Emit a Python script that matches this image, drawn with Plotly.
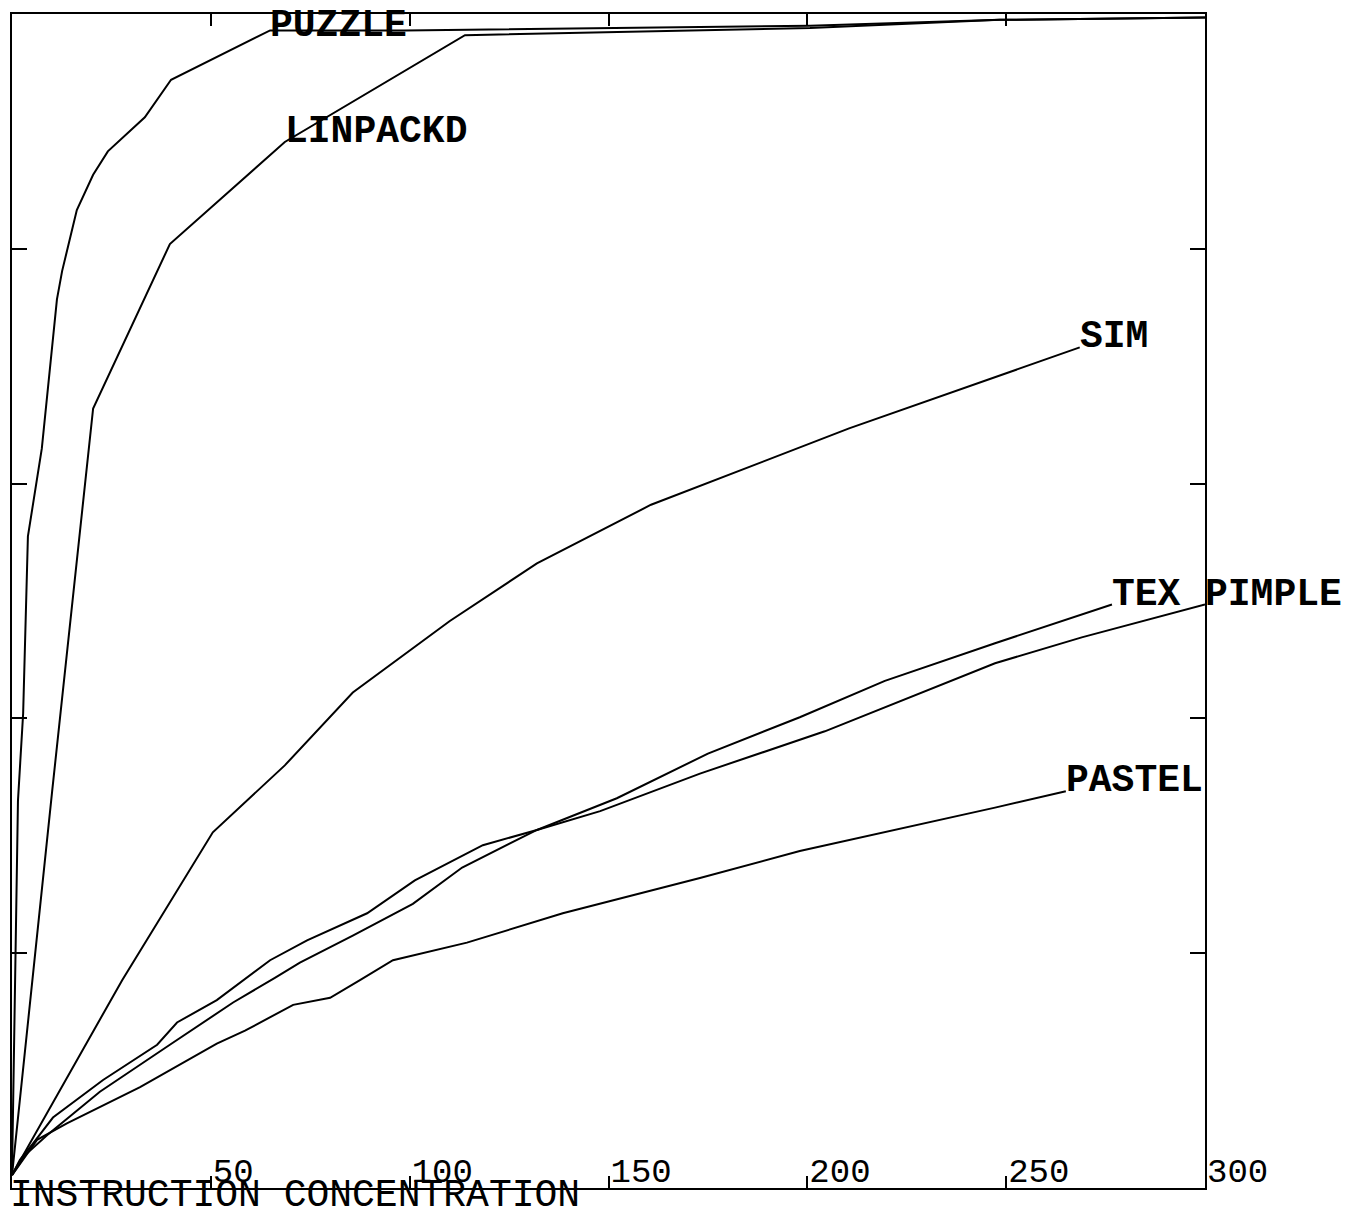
import plotly.graph_objects as go

# ---- data (x = instruction count, y = cumulative % of executed instructions) ----
series_names = ["PUZZLE", "LINPACKD", "SIM", "TEX", "PIMPLE", "PASTEL"]

puzzle_x = [0, 1.5, 2.8, 3.8, 4.0, 7.5, 11.3, 12.6, 16.3, 20.4, 24.1, 33.4, 40.0, 64.9, 98.8, 200.7, 248.4, 300]
puzzle_y = [1.1, 33.0, 40.4, 53.1, 55.5, 63.0, 75.7, 78.1, 83.3, 86.3, 88.3, 91.2, 94.4, 98.6, 98.6, 99.0, 99.5, 99.7]

linpackd_x = [0, 10.1, 20.4, 39.7, 68.6, 113.9, 200.7, 248.4, 300]
linpackd_y = [1.1, 33.8, 66.4, 80.4, 89.1, 98.2, 98.8, 99.5, 99.7]

sim_x = [0, 27.7, 50.5, 68.6, 85.7, 110.1, 132.0, 160.7, 210.5, 268.5]
sim_y = [1.1, 17.7, 30.3, 36.0, 42.2, 48.3, 53.2, 58.2, 64.7, 71.6]

tex_x = [0, 2.0, 5.3, 10.3, 22.9, 36.5, 41.5, 51.5, 64.9, 74.2, 89.3, 101.3, 118.4, 132.0, 152.1, 175.0, 198.1, 219.5, 247.2, 276.6]
tex_y = [1.1, 2.4, 3.8, 6.0, 9.2, 12.2, 14.1, 16.0, 19.4, 21.1, 23.4, 26.2, 29.2, 30.5, 33.2, 37.0, 40.1, 43.2, 46.4, 49.7]

pimple_x = [0, 3.3, 8.8, 22.1, 39.7, 55.6, 66.1, 72.4, 85.7, 100.8, 113.2, 132.0, 147.9, 173.0, 204.4, 247.2, 269.0, 300]
pimple_y = [1.1, 2.8, 4.5, 8.2, 12.2, 15.8, 17.9, 19.2, 21.5, 24.2, 27.3, 30.5, 32.1, 35.3, 38.9, 44.7, 46.9, 49.7]

pastel_x = [0, 6.3, 13.8, 32.2, 51.5, 58.6, 70.7, 80.0, 87.5, 95.8, 114.4, 138.5, 173.0, 198.1, 247.2, 265.0]
pastel_y = [1.1, 4.1, 5.5, 8.6, 12.3, 13.4, 15.6, 16.2, 17.7, 19.4, 20.9, 23.4, 26.4, 28.7, 32.4, 33.8]

# where each series label sits (index of the point it is attached to)
label_point = [13, 4, -1, -1, -1, -1]

x_ticks = [50, 100, 150, 200, 250, 300]
y_ticks = [20, 40, 60, 80]
x_title = "INSTRUCTION CONCENTRATION"

all_x = [puzzle_x, linpackd_x, sim_x, tex_x, pimple_x, pastel_x]
all_y = [puzzle_y, linpackd_y, sim_y, tex_y, pimple_y, pastel_y]

# label pixel nudges (style, not data)
label_yshift = [-19, -13, -13, -13, -13, -13]

FONT = "Liberation Mono, Courier New, monospace"

fig = go.Figure()
for name, xs, ys in zip(series_names, all_x, all_y):
    fig.add_trace(go.Scatter(x=xs, y=ys, mode="lines", name=name,
                             line=dict(color="black", width=2),
                             showlegend=False))

for name, xs, ys, idx, ysh in zip(series_names, all_x, all_y, label_point, label_yshift):
    fig.add_annotation(x=xs[idx], y=ys[idx], xref="x", yref="y",
                       text="<b>" + name + "</b>",
                       showarrow=False, xanchor="left", yanchor="bottom",
                       yshift=ysh, xshift=-2,
                       font=dict(family=FONT, size=38, color="black"))

fig.add_annotation(x=0, y=0, xref="paper", yref="paper", text=x_title,
                   showarrow=False, xanchor="left", yanchor="top",
                   yshift=16, xshift=-4,
                   font=dict(family=FONT, size=38, color="black"))

fig.update_xaxes(range=[0, 300], tickvals=x_ticks, ticks="inside", ticklen=12,
                 tickwidth=2, tickcolor="black",
                 showline=True, linecolor="black", linewidth=2, mirror="ticks",
                 showgrid=False, zeroline=False,
                 ticklabelposition="inside right", ticklabeloverflow="allow",
                 tickfont=dict(family=FONT, size=34, color="black"))
fig.update_yaxes(range=[0, 100], tickvals=y_ticks, ticks="inside", ticklen=15,
                 tickwidth=2, tickcolor="black", showticklabels=False,
                 showline=True, linecolor="black", linewidth=2, mirror="ticks",
                 showgrid=False, zeroline=False)

# page body adds an 8px margin, so the figure is offset to line up with the window
fig.update_layout(width=1333, height=1205,
                  margin=dict(l=4, r=136, t=4, b=25),
                  paper_bgcolor="white", plot_bgcolor="white")

fig.write_html("out.html")
